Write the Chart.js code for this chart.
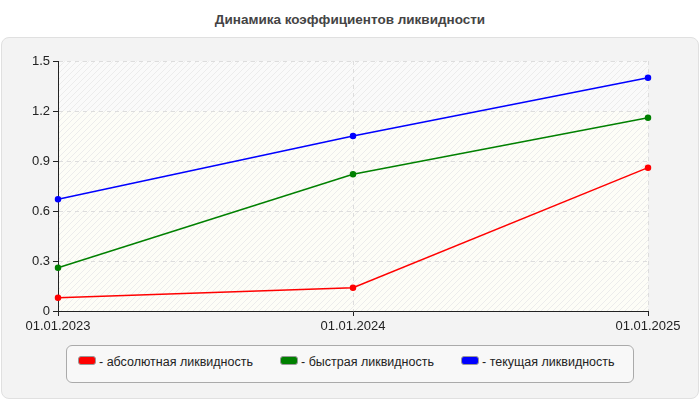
<!DOCTYPE html>
<html><head><meta charset="utf-8">
<script src="https://cdn.jsdelivr.net/npm/chart.js@4/dist/chart.umd.min.js"></script>
<style>
body{margin:0;width:700px;height:400px;background:#fff;font-family:Arial,"Liberation Sans",sans-serif;position:relative;overflow:hidden}
#panel{position:absolute;left:1px;top:37px;width:696px;height:360px;background:#f3f3f3;border:1px solid #e0e0e0;border-radius:8px}
#title{position:absolute;left:0;top:12px;width:700px;text-align:center;font-weight:bold;font-size:13.5px;color:#444}
canvas{position:absolute;left:0;top:0}
#legend{position:absolute;left:66px;top:345px;width:566px;height:36px;border:1px solid #aaa;border-radius:6px;background:#f8f8f8;font-size:12.5px;color:#222}
.it{position:absolute;top:9px;white-space:nowrap}
.sw{display:inline-block;width:16px;height:7px;border:1px solid #999;border-radius:3px;margin-right:3px;vertical-align:1px}
</style></head><body>
<div id="panel"></div>
<div id="title">Динамика коэффициентов ликвидности</div>
<div id="cw" style="position:absolute;left:0;top:0;width:700px;height:400px"><canvas id="c"></canvas></div>
<div id="legend">
<span class="it" style="left:11px"><span class="sw" style="background:#f00"></span>- абсолютная ликвидность</span>
<span class="it" style="left:213px"><span class="sw" style="background:#008000"></span>- быстрая ликвидность</span>
<span class="it" style="left:394px"><span class="sw" style="background:#00f"></span>- текущая ликвидность</span>
</div>
<script>
const categories=["01.01.2023","01.01.2024","01.01.2025"];
const absolute=[0.08,0.14,0.86];
const quick=[0.26,0.82,1.16];
const current=[0.67,1.05,1.40];
const yTicks=[0,0.3,0.6,0.9,1.2,1.5];
function pat(bg){const p=document.createElement('canvas');p.width=6;p.height=6;const g=p.getContext('2d');g.fillStyle=bg;g.fillRect(0,0,6,6);g.strokeStyle='#ececec';g.lineWidth=1;g.beginPath();g.moveTo(0,6);g.lineTo(6,0);g.moveTo(-1,1);g.lineTo(1,-1);g.moveTo(5,7);g.lineTo(7,5);g.stroke();return p;}
const bgPlugin={id:'bg',beforeDraw(ch){const{ctx,chartArea:a,scales:{y}}=ch;const y12=y.getPixelForValue(1.2);
ctx.save();ctx.fillStyle=ctx.createPattern(pat('#fafafa'),'repeat');ctx.fillRect(a.left,a.top,a.right-a.left,y12-a.top);
ctx.fillStyle=ctx.createPattern(pat('#fdfdf7'),'repeat');ctx.fillRect(a.left,y12,a.right-a.left,a.bottom-y12);ctx.restore();}};
const ds=(l,d,c)=>({label:l,data:d,borderColor:c,backgroundColor:c,borderWidth:1.5,pointRadius:2.5,pointHoverRadius:2.5,tension:0});
new Chart(document.getElementById('c'),{type:'line',plugins:[bgPlugin],
data:{labels:categories,datasets:[ds('абсолютная ликвидность',absolute,'#f00'),ds('быстрая ликвидность',quick,'#008000'),ds('текущая ликвидность',current,'#00f')]},
options:{responsive:true,maintainAspectRatio:false,animation:false,devicePixelRatio:1,
layout:{padding:{left:0,right:52,top:61,bottom:0}},
plugins:{legend:{display:false},tooltip:{enabled:false}},
scales:{
x:{offset:false,afterFit(s){s.height=89;},grid:{color:'#ddd',tickColor:'#222',tickLength:5,drawTicks:true},border:{color:'#222',dash:[4,4]},
 ticks:{color:'#222',font:{size:13,family:'Arial'},maxRotation:0,padding:3}},
y:{min:0,max:1.5,afterFit(s){s.width=58;},afterBuildTicks(s){s.ticks=yTicks.map(v=>({value:v}));},
 grid:{color:'#ddd',tickColor:'#222',tickLength:5},border:{color:'#222',dash:[4,4]},
 ticks:{color:'#222',font:{size:13,family:'Arial'},padding:3}}}}});
</script></body></html>
